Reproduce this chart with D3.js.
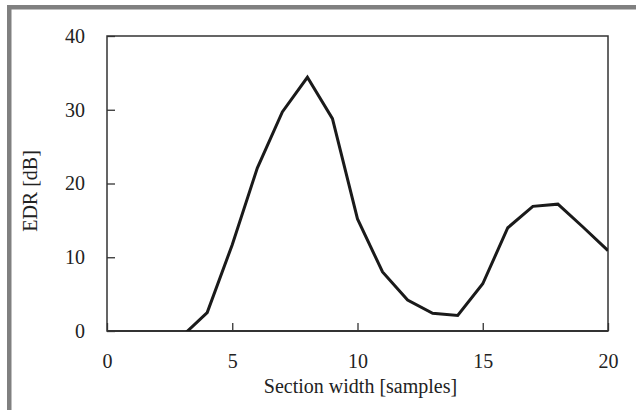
<!DOCTYPE html>
<html>
<head>
<meta charset="utf-8">
<script src="https://cdn.jsdelivr.net/npm/d3@7"></script>
<style>
  body { margin: 0; background: #fff; }
  svg text { font-family: "Liberation Serif", "Times New Roman", serif; fill: #222; }
</style>
</head>
<body>
<div id="main"></div>
<script>
// section width (samples) and EDR (dB)
var widths = [3, 4, 5, 6, 7, 8, 9, 10, 11, 12, 13, 14, 15, 16, 17, 18, 19, 20];
var edr = [-0.7, 2.5, 11.7, 22.1, 29.7, 34.4, 28.8, 15.2, 8.0, 4.2, 2.4, 2.1, 6.4, 14.0, 16.9, 17.2, 14.1, 10.9];
var xTicks = [0, 5, 10, 15, 20];
var yTicks = [0, 10, 20, 30, 40];
var xTitle = "Section width [samples]";
var yTitle = "EDR [dB]";

var svg = d3.select("#main").append("svg")
  .attr("width", 636)
  .attr("height", 410);

// grey frame (top and left only)
svg.append("rect").attr("x", 7).attr("y", 5).attr("width", 629).attr("height", 4.5).attr("fill", "#808080");
svg.append("rect").attr("x", 7).attr("y", 5).attr("width", 4.5).attr("height", 405).attr("fill", "#808080");

var x = d3.scaleLinear().domain([0, 20]).range([107, 608]);
var y = d3.scaleLinear().domain([0, 40]).range([331, 36]);

svg.append("clipPath").attr("id", "plotClip")
  .append("rect")
  .attr("x", x(0)).attr("y", y(40))
  .attr("width", x(20) - x(0)).attr("height", y(0) - y(40));

var xAxis = d3.axisBottom(x).tickValues(xTicks).tickFormat(d3.format("d"))
  .tickSizeInner(-8).tickSizeOuter(0).tickPadding(23);
var yAxis = d3.axisLeft(y).tickValues(yTicks).tickFormat(d3.format("d"))
  .tickSizeInner(-8).tickSizeOuter(0).tickPadding(22);

var gx = svg.append("g").attr("transform", "translate(0," + y(0) + ")").call(xAxis);
var gy = svg.append("g").attr("transform", "translate(" + x(0) + ",0)").call(yAxis);

[gx, gy].forEach(function(g) {
  g.select(".domain").remove();
  g.selectAll(".tick line").attr("stroke", "#333").attr("stroke-width", 1.3);
  g.selectAll(".tick text").attr("font-size", "20px").attr("fill", "#222")
    .style("font-family", "Liberation Serif, serif");
});

// plot box
svg.append("rect")
  .attr("x", x(0)).attr("y", y(40))
  .attr("width", x(20) - x(0)).attr("height", y(0) - y(40))
  .attr("fill", "none").attr("stroke", "#333").attr("stroke-width", 1.5);
svg.append("line")
  .attr("x1", x(0)).attr("x2", x(20)).attr("y1", y(0)).attr("y2", y(0))
  .attr("stroke", "#333").attr("stroke-width", 2.2);

var line = d3.line()
  .x(function(d, i) { return x(widths[i]); })
  .y(function(d) { return y(d); });

svg.append("path")
  .datum(edr)
  .attr("clip-path", "url(#plotClip)")
  .attr("fill", "none")
  .attr("stroke", "#1a1a1a")
  .attr("stroke-width", 3)
  .attr("stroke-linejoin", "miter")
  .attr("d", line);

svg.append("text")
  .attr("x", (x(0) + x(20)) / 2 + 3)
  .attr("y", 393)
  .attr("text-anchor", "middle")
  .attr("font-size", "20px")
  .text(xTitle);

svg.append("text")
  .attr("transform", "translate(37,191) rotate(-90)")
  .attr("text-anchor", "middle")
  .attr("font-size", "20px")
  .text(yTitle);
</script>
</body>
</html>
